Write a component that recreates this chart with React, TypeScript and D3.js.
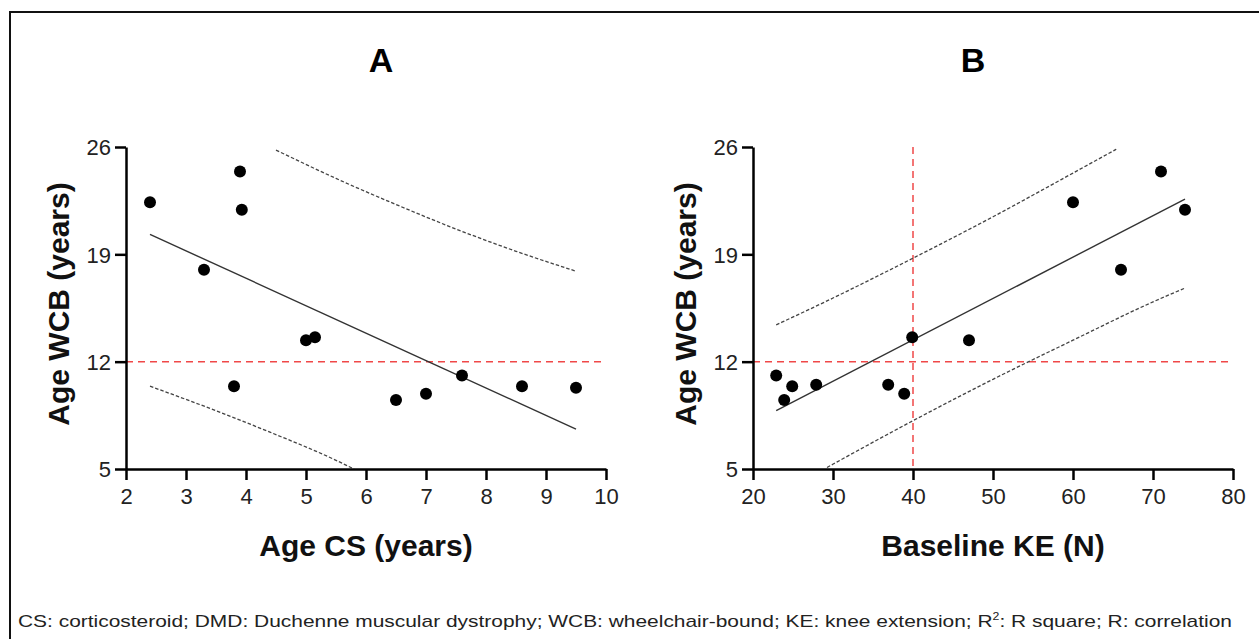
import React, { useEffect, useRef } from 'react'
import * as d3 from 'd3'

// shared y ticks (age wheelchair-bound, years)
const yTicks = [5, 12, 19, 26]

// panel A: age at corticosteroid start
const xTicksA = [2, 3, 4, 5, 6, 7, 8, 9, 10]
const ageCS = [2.4, 3.9, 3.93, 3.3, 3.8, 5.0, 5.15, 6.5, 7.0, 7.6, 8.6, 9.5]
const ageWCB_A = [22.4, 24.4, 21.9, 18.0, 10.4, 13.4, 13.6, 9.5, 9.9, 11.1, 10.4, 10.3]
const fitA_x = [2.4, 9.5]
const fitA_y = [20.3, 7.6]
const upperA_x = [4.5, 5.5, 6.5, 7.5, 8.5, 9.5]
const upperA_y = [25.8, 23.95, 22.25, 20.65, 19.2, 17.9]
const lowerA_x = [2.4, 3.4, 4.4, 5.4, 5.8]
const lowerA_y = [10.4, 8.95, 7.4, 5.75, 5.0]

// panel B: baseline knee extension
const xTicksB = [20, 30, 40, 50, 60, 70, 80]
const baselineKE = [22.9, 23.9, 24.9, 27.9, 36.9, 38.9, 39.9, 47, 60, 66, 71, 74]
const ageWCB_B = [11.1, 9.5, 10.4, 10.5, 10.5, 9.9, 13.6, 13.4, 22.4, 18.0, 24.4, 21.9]
const fitB_x = [22.9, 74]
const fitB_y = [8.8, 22.6]
const upperB_x = [22.9, 30, 40, 50, 60, 65.4]
const upperB_y = [14.4, 16.15, 18.75, 21.45, 24.3, 25.85]
const lowerB_x = [29.25, 40, 50, 60, 70, 74]
const lowerB_y = [5.1, 8.15, 10.85, 13.4, 15.9, 16.8]

const caption = 'CS: corticosteroid; DMD: Duchenne muscular dystrophy; WCB: wheelchair-bound; KE: knee extension; R'
const captionTail = ': R square; R: correlation'

const W = 1259
const H = 639
const font = '"Liberation Sans", Arial, Helvetica, sans-serif'

type Panel = {
  left: number
  titleX: number
  title: string
  xLabel: string
  xDomain: [number, number]
  xTicks: number[]
  xs: number[]
  ys: number[]
  fit: [number[], number[]]
  upper: [number[], number[]]
  lower: [number[], number[]]
  refX?: number
}

const panels: Panel[] = [
  { left: 126, titleX: 381, title: 'A', xLabel: 'Age CS (years)', xDomain: [2, 10], xTicks: xTicksA,
    xs: ageCS, ys: ageWCB_A, fit: [fitA_x, fitA_y], upper: [upperA_x, upperA_y], lower: [lowerA_x, lowerA_y] },
  { left: 753, titleX: 973, title: 'B', xLabel: 'Baseline KE (N)', xDomain: [20, 80], xTicks: xTicksB,
    xs: baselineKE, ys: ageWCB_B, fit: [fitB_x, fitB_y], upper: [upperB_x, upperB_y], lower: [lowerB_x, lowerB_y], refX: 40 }
]

export default function App() {
  const svgRef = useRef<SVGSVGElement>(null)

  useEffect(() => {
    const svg = d3.select(svgRef.current)
    svg.selectAll('*').remove()

    const top = 147
    const plotH = 322
    const plotW = 480

    // outer frame (runs off the right and bottom edges)
    svg.append('path')
      .attr('d', `M10,${H + 5} V12 H${W + 5}`)
      .attr('fill', 'none')
      .attr('stroke', '#111')
      .attr('stroke-width', 2)

    const y = d3.scaleLinear().domain([5, 26]).range([top + plotH, top])

    panels.forEach(p => {
      const x = d3.scaleLinear().domain(p.xDomain).range([p.left, p.left + plotW])
      const g = svg.append('g')
      const toPts = (xs: number[], ys: number[]) => xs.map((v, i) => [x(v), y(ys[i])] as [number, number])

      // red reference lines
      g.append('line')
        .attr('x1', p.left).attr('x2', p.left + plotW)
        .attr('y1', y(12)).attr('y2', y(12))
        .attr('stroke', '#f04848').attr('stroke-width', 1.5).attr('stroke-dasharray', '7,5')
      if (p.refX !== undefined) {
        g.append('line')
          .attr('x1', x(p.refX)).attr('x2', x(p.refX))
          .attr('y1', top).attr('y2', top + plotH)
          .attr('stroke', '#f04848').attr('stroke-width', 1.5).attr('stroke-dasharray', '7,5')
      }

      // prediction bands
      ;[p.upper, p.lower].forEach(b => {
        g.append('path')
          .attr('d', d3.line().curve(d3.curveMonotoneX)(toPts(b[0], b[1])))
          .attr('fill', 'none')
          .attr('stroke', '#444')
          .attr('stroke-width', 1.3)
          .attr('stroke-dasharray', '3.5,2')
      })

      // regression line
      g.append('path')
        .attr('d', d3.line()(toPts(p.fit[0], p.fit[1])))
        .attr('fill', 'none')
        .attr('stroke', '#333')
        .attr('stroke-width', 1.4)

      // points
      g.selectAll('.dot')
        .data(p.xs)
        .enter()
        .append('circle')
        .attr('class', 'dot')
        .attr('cx', d => x(d))
        .attr('cy', (d, i) => y(p.ys[i]))
        .attr('r', 6)
        .attr('fill', '#000')

      // axes
      const xAxis = g.append('g')
        .attr('transform', `translate(0,${top + plotH})`)
        .call(d3.axisBottom(x).tickValues(p.xTicks).tickSize(11).tickSizeOuter(0).tickPadding(8).tickFormat(d3.format('d')))
      const yAxis = g.append('g')
        .attr('transform', `translate(${p.left},0)`)
        .call(d3.axisLeft(y).tickValues(yTicks).tickSize(11).tickSizeOuter(0).tickPadding(4).tickFormat(d3.format('d')))
      ;[xAxis, yAxis].forEach(a => {
        a.select('.domain').attr('stroke', '#000').attr('stroke-width', 2.5)
        a.selectAll('.tick line').attr('stroke', '#000').attr('stroke-width', 2.5)
        a.selectAll('.tick text')
          .attr('fill', '#222')
          .style('font-family', font)
          .style('font-size', '22px')
      })
      yAxis.selectAll('.tick text').attr('dy', '0.36em')

      // labels
      g.append('text')
        .attr('x', p.left + plotW / 2)
        .attr('y', 556)
        .attr('text-anchor', 'middle')
        .style('font-family', font)
        .style('font-weight', 'bold')
        .style('font-size', '30px')
        .attr('fill', '#111')
        .text(p.xLabel)
      g.append('text')
        .attr('transform', `translate(${p.left - 57},${top + plotH / 2 - 4}) rotate(-90)`)
        .attr('text-anchor', 'middle')
        .style('font-family', font)
        .style('font-weight', 'bold')
        .style('font-size', '30px')
        .attr('fill', '#111')
        .text('Age WCB (years)')
      g.append('text')
        .attr('x', p.titleX)
        .attr('y', 72)
        .attr('text-anchor', 'middle')
        .style('font-family', font)
        .style('font-weight', 'bold')
        .style('font-size', '34px')
        .attr('fill', '#000')
        .text(p.title)
    })

    // caption
    const cap = svg.append('text')
      .attr('x', 18)
      .attr('y', 627)
      .attr('textLength', 1214)
      .attr('lengthAdjust', 'spacingAndGlyphs')
      .style('font-family', font)
      .style('font-size', '17px')
      .attr('fill', '#222')
    cap.append('tspan').text(caption)
    cap.append('tspan').attr('dy', -7).style('font-size', '10px').text('2')
    cap.append('tspan').attr('dy', 7).text(captionTail)
  }, [])

  return (
    <svg ref={svgRef} width={W} height={H}
      style={{ position: 'absolute', left: 0, top: 0, background: '#fff' }} />
  )
}
